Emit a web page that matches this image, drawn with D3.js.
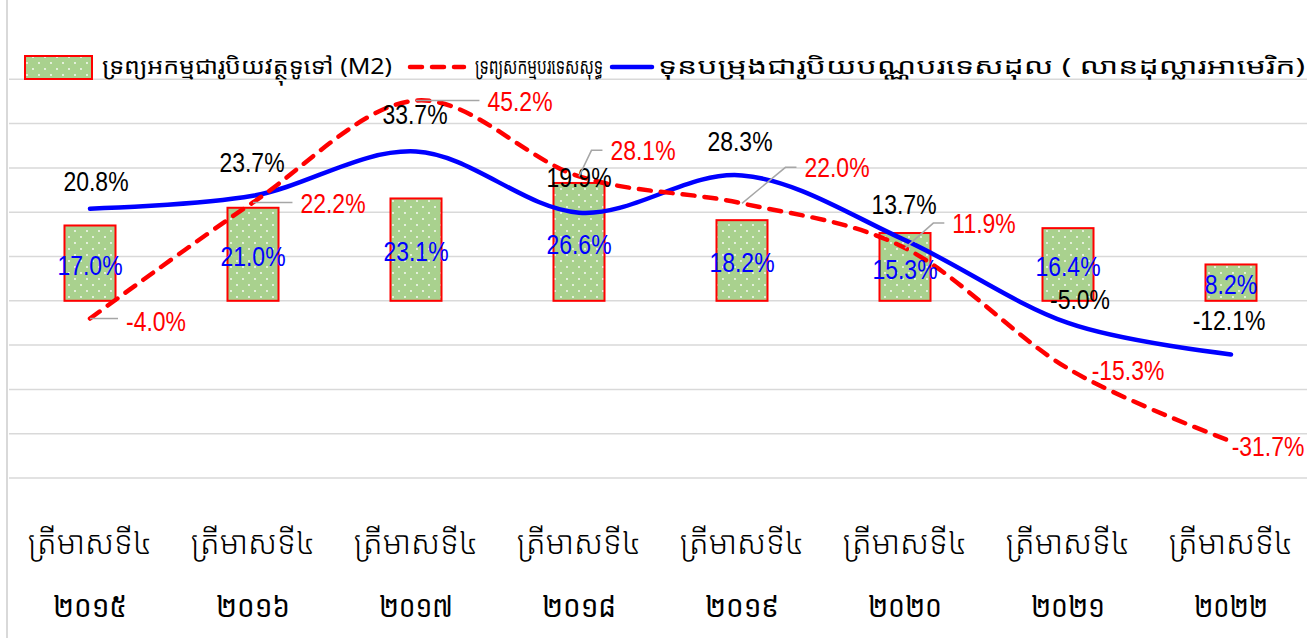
<!DOCTYPE html>
<html>
<head>
<meta charset="utf-8">
<script src="https://cdn.jsdelivr.net/npm/d3@7"></script>
<style>
  html, body { margin: 0; padding: 0; background: #fff; }
  svg { display: block; }
</style>
</head>
<body>
<svg id="chart" width="1307" height="638"></svg>
<script>
// categories (Khmer: quarter 4 of each year)
const quarterLabel = 'ត្រីមាសទី៤';
const years = ['២០១៥', '២០១៦', '២០១៧', '២០១៨', '២០១៩', '២០២០', '២០២១', '២០២២'];

// series, in percent
const m2Growth      = [17.0, 21.0, 23.1, 26.6, 18.2, 15.3, 16.4, 8.2];
const nfaGrowth     = [-4.0, 22.2, 45.2, 28.1, 22.0, 11.9, -15.3, -31.7];
const reserveGrowth = [20.8, 23.7, 33.7, 19.9, 28.3, 13.7, -5.0, -12.1];

const seriesNames = [
  'ទ្រព្យអកម្មជារូបិយវត្ថុទូទៅ (M2)',
  'ទ្រព្យសកម្មបរទេសសុទ្ធ',
  'ទុនបម្រុងជារូបិយបណ្ណបរទេសដុល ( លានដុល្លារអាមេរិក)'
];

const gridTicks = [-40, -30, -20, -10, 0, 10, 20, 30, 40, 50];

// label nudges (px) -- the picture has hand-placed labels
const nfaLabelShift = [[66, 3], [80, 1], [104, 1], [64, -26], [95, -36], [79, -25], [60, 2], [37, 5]];
const nfaLeader     = [true, true, true, true, true, true, false, false];
const resLabelShift = [[6, -27], [-1, -34], [-1, -37], [0, -35], [-2, -34], [-1, -36], [12, -24], [-2, -34]];

const NUM_FONT = "'Liberation Sans Narrow', 'Arial Narrow', 'Liberation Sans', Arial, sans-serif";
const KH_FONT  = "'Khmer OS System', 'Khmer OS', 'Noto Sans Khmer', 'Khmer UI', sans-serif";
const GRID     = '#d9d9d9';
const NARROW   = 0.82; // no narrow face installed, squeeze the regular one

const svg = d3.select('#chart');
const idx = d3.range(years.length);

const x = d3.scaleBand()
  .domain(idx)
  .range([8.5, 1312.5])
  .paddingInner(0.687)
  .paddingOuter(0.3435);

const y = d3.scaleLinear()
  .domain([-40, 60])
  .range([478, 35]);

const cx = i => x(i) + x.bandwidth() / 2;

// dotted fill used by the bars
const defs = svg.append('defs');
const pat = defs.append('pattern')
  .attr('id', 'dots')
  .attr('patternUnits', 'userSpaceOnUse')
  .attr('width', 12)
  .attr('height', 12);
pat.append('rect').attr('width', 12).attr('height', 12).attr('fill', '#a9d18e');
pat.append('circle').attr('cx', 3).attr('cy', 3).attr('r', 0.9).attr('fill', '#fff');
pat.append('circle').attr('cx', 9).attr('cy', 9).attr('r', 0.9).attr('fill', '#fff');

// chart border (left) + gridlines
svg.append('line')
  .attr('x1', 7).attr('x2', 7).attr('y1', 0).attr('y2', 638)
  .attr('stroke', GRID).attr('stroke-width', 2);

svg.append('g')
  .selectAll('line')
  .data(gridTicks)
  .enter().append('line')
  .attr('x1', 9).attr('x2', 1307)
  .attr('y1', d => y(d)).attr('y2', d => y(d))
  .attr('stroke', GRID).attr('stroke-width', 1.5);

// bars
svg.append('g')
  .selectAll('rect')
  .data(m2Growth)
  .enter().append('rect')
  .attr('x', (d, i) => x(i))
  .attr('y', d => y(Math.max(0, d)))
  .attr('width', x.bandwidth())
  .attr('height', d => Math.abs(y(d) - y(0)))
  .attr('fill', 'url(#dots)')
  .attr('stroke', '#ff0000')
  .attr('stroke-width', 2);

const line = d3.line()
  .x((d, i) => cx(i))
  .y(d => y(d))
  .curve(d3.curveCatmullRom.alpha(0));

svg.append('path')
  .datum(reserveGrowth)
  .attr('d', line)
  .attr('fill', 'none')
  .attr('stroke', '#0000ff')
  .attr('stroke-width', 4.5)
  .attr('stroke-linecap', 'round');

svg.append('path')
  .datum(nfaGrowth)
  .attr('d', line)
  .attr('fill', 'none')
  .attr('stroke', '#ff0000')
  .attr('stroke-width', 4.5)
  .attr('stroke-dasharray', '12,10')
  .attr('stroke-linecap', 'round');

const fmt = d => d.toFixed(1) + '%';

// number label, centred at (px, py), narrowed
function numLabel(parent, px, py, str, color) {
  return parent.append('text')
    .attr('transform', `translate(${px},${py}) scale(${NARROW},1)`)
    .attr('dy', '0.35em')
    .attr('text-anchor', 'middle')
    .style('font-family', NUM_FONT)
    .style('font-size', '28px')
    .attr('fill', color)
    .text(str);
}

// bar labels, centred in the bar
const barLabels = svg.append('g');
m2Growth.forEach((d, i) => {
  numLabel(barLabels, cx(i), (y(d) + y(0)) / 2 + 2, fmt(d), '#0000ff');
});

// reserve labels (black)
const resLabels = svg.append('g');
reserveGrowth.forEach((d, i) => {
  numLabel(resLabels, cx(i) + resLabelShift[i][0], y(d) + resLabelShift[i][1], fmt(d), '#000');
});

// net foreign assets labels (red) with leader lines
const nfaG = svg.append('g');
nfaGrowth.forEach((d, i) => {
  let lx = cx(i) + nfaLabelShift[i][0];
  let ly = y(d) + nfaLabelShift[i][1];
  let t = numLabel(nfaG, lx, ly, fmt(d), '#ff0000');

  if (nfaLeader[i]) {
    let left = lx - t.node().getComputedTextLength() * NARROW / 2;
    let end = left - 8;
    let ey = Math.abs(ly - y(d)) < 6 ? y(d) : ly;
    nfaG.insert('polyline', 'text')
      .attr('points', [[cx(i), y(d)], [end - 11, ey], [end, ey]].join(' '))
      .attr('fill', 'none')
      .attr('stroke', '#a6a6a6')
      .attr('stroke-width', 1.5);
  }
});

// x axis labels, two lines each
const xl = svg.append('g')
  .selectAll('g')
  .data(years)
  .enter().append('g')
  .attr('transform', (d, i) => `translate(${cx(i)},0)`);

xl.append('text')
  .attr('y', 543)
  .attr('dy', '0.35em')
  .attr('text-anchor', 'middle')
  .style('font-family', KH_FONT)
  .style('font-size', '32px')
  .style('font-weight', 300)
  .text(quarterLabel);

xl.append('text')
  .attr('x', -37)
  .attr('y', 606)
  .attr('dy', '0.35em')
  .attr('textLength', 74)
  .attr('lengthAdjust', 'spacingAndGlyphs')
  .style('font-family', KH_FONT)
  .style('font-size', '31px')
  .text(d => d);

// legend
const lg = svg.append('g');
lg.append('rect')
  .attr('x', 25).attr('y', 56).attr('width', 67).attr('height', 23)
  .attr('fill', 'url(#dots)')
  .attr('stroke', '#ff0000').attr('stroke-width', 2);

lg.append('line')
  .attr('x1', 410).attr('x2', 464).attr('y1', 67).attr('y2', 67)
  .attr('stroke', '#ff0000').attr('stroke-width', 4.5)
  .attr('stroke-dasharray', '12,10').attr('stroke-linecap', 'round');

lg.append('line')
  .attr('x1', 612).attr('x2', 652).attr('y1', 67).attr('y2', 67)
  .attr('stroke', '#0000ff').attr('stroke-width', 4.5)
  .attr('stroke-linecap', 'round');

const legendSpots = [[102, 290], [475, 128], [658, 647]];
seriesNames.forEach((name, i) => {
  lg.append('text')
    .attr('x', legendSpots[i][0])
    .attr('y', 66)
    .attr('dy', '0.35em')
    .attr('textLength', legendSpots[i][1])
    .attr('lengthAdjust', 'spacingAndGlyphs')
    .style('font-family', KH_FONT)
    .style('font-size', '22px')
    .text(name);
});
</script>
</body>
</html>
